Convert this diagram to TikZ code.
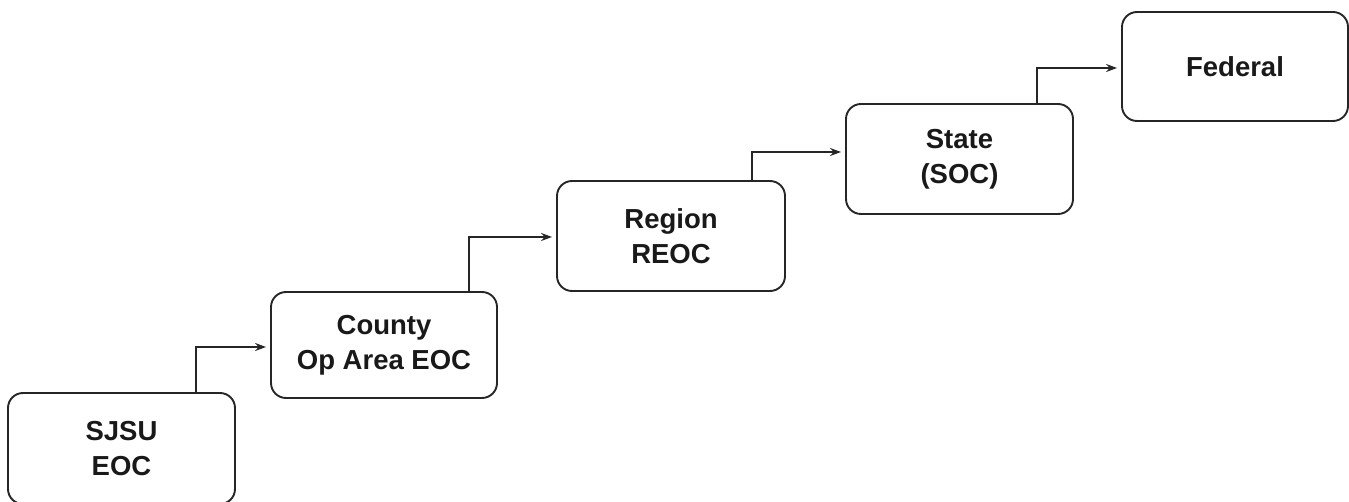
\documentclass[tikz,border=0pt]{standalone}
\usepackage{fontspec}
\setmainfont{Liberation Sans}
\usetikzlibrary{arrows.meta}
\begin{document}
\begin{tikzpicture}[x=1pt,y=-1pt,
  box/.style={draw=black!85, line width=1.9pt, rounded corners=15pt, minimum width=226pt, minimum height=107pt, inner sep=0pt, align=center, font=\fontsize{27.5}{35}\selectfont\bfseries, text=black!90},
  conn/.style={draw=black!85, line width=1.5pt, -{Stealth[length=11pt,width=8pt]}, shorten >=4pt}]
\useasboundingbox (0,0) rectangle (1349,502);
\begin{scope}
\clip (0,0) rectangle (1349,502);
\node[box, minimum width=227pt, minimum height=111pt] (sjsu) at (121.5,448.5) {SJSU\\EOC};
\end{scope}
\node[box, minimum height=106pt] (county) at (384,345) {County\\Op Area EOC};
\node[box, minimum width=228pt, minimum height=110pt] (region) at (671,236) {Region\\REOC};
\node[box, minimum width=227pt, minimum height=110pt] (state) at (959.5,159) {State\\(SOC)};
\node[box, minimum height=109pt] (federal) at (1235,66.5) {Federal};
\coordinate (c1) at (196,347);
\coordinate (c2) at (469,237);
\coordinate (c3) at (752,152);
\coordinate (c4) at (1037,68);
\draw[conn] (sjsu.north -| c1) |- (county.west |- c1);
\draw[conn] (county.north -| c2) |- (region.west |- c2);
\draw[conn] (region.north -| c3) |- (state.west |- c3);
\draw[conn] (state.north -| c4) |- (federal.west |- c4);
\end{tikzpicture}
\end{document}
